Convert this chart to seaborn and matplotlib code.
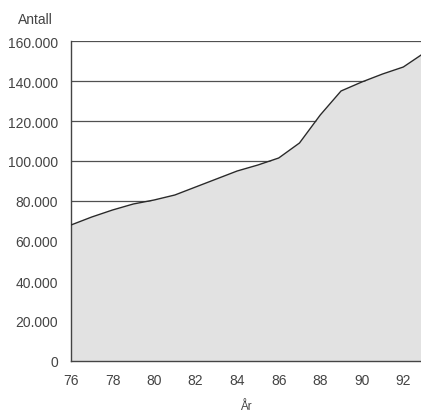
import numpy as np
import pandas as pd
import matplotlib
matplotlib.use("Agg")
import matplotlib.pyplot as plt
import seaborn as sns
from matplotlib.ticker import FuncFormatter, MultipleLocator

# data
years = [76, 77, 78, 79, 80, 81, 82, 83, 84, 85, 86, 87, 88, 89, 90, 91, 92, 93]
antall = [68000, 72000, 75500, 78500, 80500, 83000, 87000, 91000, 95000,
          98000, 101500, 109000, 123000, 135000, 139500, 143500, 147000, 154000]
xticks = [76, 78, 80, 82, 84, 86, 88, 90, 92]
yticks = [0, 20000, 40000, 60000, 80000, 100000, 120000, 140000, 160000]

df = pd.DataFrame({"Ar": years, "Antall": antall})

sns.set_style("white")
plt.rcParams['font.family'] = ['Liberation Sans', 'DejaVu Sans']

fig = plt.figure(figsize=(4.21, 4.14), dpi=100)
ax = fig.add_axes([71 / 421, 52 / 414, 350 / 421, 320 / 414])

# gridlines first, fill drawn over them
for y in yticks[1:]:
    ax.axhline(y, color="#505050", lw=0.9, zorder=1)

ax.fill_between(df["Ar"], df["Antall"], 0, color="#e2e2e2", zorder=2, lw=0)
sns.lineplot(data=df, x="Ar", y="Antall", ax=ax, color="#2a2a2a", lw=1.0, zorder=3)

ax.set_xlim(76, 92.85)
ax.set_ylim(0, 160000)
ax.set_xticks(xticks)
ax.xaxis.set_minor_locator(MultipleLocator(1))
ax.set_yticks(yticks)
ax.yaxis.set_major_formatter(FuncFormatter(lambda v, p: "0" if v == 0 else f"{int(v):,}".replace(",", ".")))

for s in ["top", "right"]:
    ax.spines[s].set_visible(False)
for s in ["left", "bottom"]:
    ax.spines[s].set_color("#444444")
    ax.spines[s].set_linewidth(1.0)

ax.tick_params(axis="x", which="both", direction="out", length=4, width=0.8,
               color="#444444", labelsize=10, labelcolor="#444444", pad=5)
ax.tick_params(axis="y", which="both", left=False, labelsize=10,
               labelcolor="#444444", pad=6)

ax.set_xlabel("År", fontsize=8.5, color="#444444", labelpad=9)
ax.set_ylabel("")
fig.text(18 / 421, 1 - 20 / 414, "Antall", fontsize=10, color="#444444",
         ha="left", va="center")

fig.savefig("out.png", dpi=100)
